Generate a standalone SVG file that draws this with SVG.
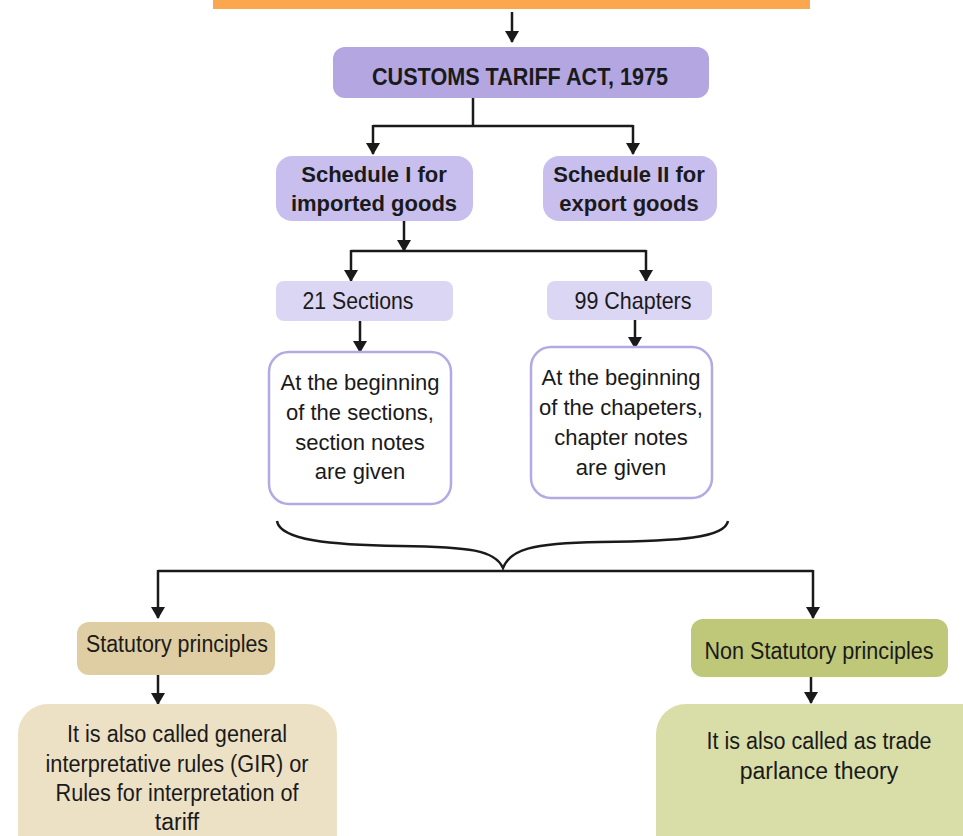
<svg xmlns="http://www.w3.org/2000/svg" width="963" height="836" viewBox="0 0 963 836">
<style>
text{font-family:"Liberation Sans",Arial,sans-serif;fill:#1a1a1a;text-anchor:middle}
.b{font-weight:bold;font-size:22px}
.r{font-size:22px}
.c{stroke:#1a1a1a;stroke-width:2.5;fill:none;marker-end:url(#ah)}
.l{stroke:#1a1a1a;stroke-width:2.5;fill:none}
</style>
<defs>
<marker id="ah" viewBox="0 0 12 14" refX="11" refY="7" markerWidth="12" markerHeight="14" markerUnits="userSpaceOnUse" orient="auto">
<path d="M0,0 L12,7 L0,14 z" fill="#1a1a1a"/>
</marker>
</defs>
<rect x="213" y="0" width="597" height="9" fill="#FBA74F"/>
<g id="connectors">
<path class="c" d="M512,12 V42"/>
<path class="l" d="M473,98 V126 M373,126 H633"/>
<path class="c" d="M373,125 V154"/>
<path class="c" d="M633,125 V154"/>
<path class="l" d="M351,251 H646"/>
<path class="c" d="M404,221 V251"/>
<path class="c" d="M351,250 V281"/>
<path class="c" d="M646,250 V281"/>
<path class="c" d="M360,321 V352"/>
<path class="c" d="M635,320 V348"/>
<path class="l" stroke-width="2" d="M277,521 C280,540 330,545 400,546 C470,547 495,550 503,568 C510,550 530,543 600,542 C680,541 725,538 728,521"/>
<path class="l" d="M158,571 H813"/>
<path class="c" d="M158,570 V618"/>
<path class="c" d="M813,570 V618"/>
<path class="c" d="M158,675 V704"/>
<path class="c" d="M811,677 V703"/>
</g>
<g id="n-act">
<rect x="333" y="47" width="376" height="51" rx="12" fill="#B3A6E1"/>
<text class="b" x="520" y="85" textLength="296" lengthAdjust="spacingAndGlyphs" style="font-size:24px">CUSTOMS TARIFF ACT, 1975</text>
</g>
<g id="n-sch1">
<rect x="276" y="156" width="197" height="65" rx="16" fill="#C9BFEF"/>
<text class="b" x="374" y="182">Schedule I for</text>
<text class="b" x="374" y="211">imported goods</text>
</g>
<g id="n-sch2">
<rect x="543" y="156" width="174" height="65" rx="16" fill="#C9BFEF"/>
<text class="b" x="629" y="182">Schedule II for</text>
<text class="b" x="629" y="211">export goods</text>
</g>
<g id="n-sections">
<rect x="276" y="281" width="177" height="40" rx="8" fill="#DCD6F5"/>
<text class="r" x="358" y="309" textLength="111" lengthAdjust="spacingAndGlyphs" style="font-size:24px">21 Sections</text>
</g>
<g id="n-chapters">
<rect x="547" y="281" width="165" height="39" rx="8" fill="#DCD6F5"/>
<text class="r" x="633" y="309" textLength="117" lengthAdjust="spacingAndGlyphs" style="font-size:24px">99 Chapters</text>
</g>
<g id="n-secnotes">
<rect x="269" y="352" width="182" height="152" rx="20" fill="#fff" stroke="#B5A9E3" stroke-width="2.5"/>
<text class="r" x="360" y="390">At the beginning</text>
<text class="r" x="360" y="420">of the sections,</text>
<text class="r" x="360" y="450">section notes</text>
<text class="r" x="360" y="479">are given</text>
</g>
<g id="n-chapnotes">
<rect x="531" y="347" width="181" height="151" rx="20" fill="#fff" stroke="#B5A9E3" stroke-width="2.5"/>
<text class="r" x="621" y="385">At the beginning</text>
<text class="r" x="621" y="415">of the chapeters,</text>
<text class="r" x="621" y="445">chapter notes</text>
<text class="r" x="621" y="475">are given</text>
</g>
<g id="n-stat">
<rect x="77" y="622" width="198" height="53" rx="12" fill="#DFCDA3"/>
<text class="r" x="177" y="652" textLength="182" lengthAdjust="spacingAndGlyphs" style="font-size:23px">Statutory principles</text>
</g>
<g id="n-stat-desc">
<rect x="18" y="704" width="319" height="170" rx="30" fill="#EDE1C5"/>
<text class="r" x="177" y="742" textLength="220" lengthAdjust="spacingAndGlyphs" style="font-size:23px">It is also called general</text>
<text class="r" x="177" y="772" textLength="263" lengthAdjust="spacingAndGlyphs" style="font-size:23px">interpretative rules (GIR) or</text>
<text class="r" x="177" y="801" textLength="243" lengthAdjust="spacingAndGlyphs" style="font-size:23px">Rules for interpretation of</text>
<text class="r" x="177" y="830" style="font-size:23px">tariff</text>
</g>
<g id="n-nonstat">
<rect x="691" y="619" width="257" height="58" rx="12" fill="#BFC778"/>
<text class="r" x="819" y="659" textLength="229" lengthAdjust="spacingAndGlyphs" style="font-size:23px">Non Statutory principles</text>
</g>
<g id="n-nonstat-desc">
<rect x="656" y="704" width="340" height="170" rx="30" fill="#D9DEA8"/>
<text class="r" x="819" y="749" textLength="225" lengthAdjust="spacingAndGlyphs" style="font-size:23px">It is also called as trade</text>
<text class="r" x="819" y="779" style="font-size:23px">parlance theory</text>
</g>
</svg>
